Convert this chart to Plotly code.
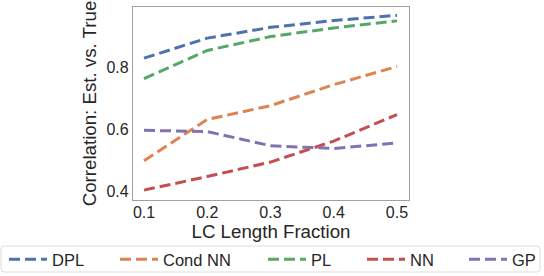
import plotly.graph_objects as go

fractions = [0.1, 0.2, 0.3, 0.4, 0.5]
dpl = [0.831, 0.896, 0.931, 0.953, 0.970]
cond_nn = [0.498, 0.632, 0.677, 0.745, 0.804]
pl = [0.765, 0.856, 0.901, 0.929, 0.952]
nn = [0.403, 0.447, 0.494, 0.562, 0.648]
gp = [0.597, 0.593, 0.547, 0.538, 0.556]

series_names = ["DPL", "Cond NN", "PL", "NN", "GP"]
series_values = [dpl, cond_nn, pl, nn, gp]
colors = ["#4C72B0", "#DD8452", "#55A868", "#C44E52", "#8172B3"]

x_ticks = [0.1, 0.2, 0.3, 0.4, 0.5]
y_ticks = [0.4, 0.6, 0.8]

W, H = 544, 276
ML, MR, MT, MB = 133, 135, 7, 76
PW, PH = W - ML - MR, H - MT - MB

FONT = "Arial, Liberation Sans, Helvetica, sans-serif"
TXT = "#262626"

# legend entry text-left positions (px) and frame (px)
leg_text_px = [52, 163, 311, 410, 512]
leg_top_px = 242
frame_px = (1, 246, 540, 272)

fig = go.Figure()
legends = {}
for i, (name, vals, c) in enumerate(zip(series_names, series_values, colors)):
    lname = "legend" if i == 0 else f"legend{i + 1}"
    fig.add_trace(go.Scatter(
        x=fractions, y=vals, mode="lines", name=name,
        line=dict(color=c, width=3, dash="11px,5px"),
        legend=lname,
    ))
    legends[lname] = dict(
        orientation="h", xref="container", yref="container",
        x=max(0.0, (leg_text_px[i] - 48) / W), y=1 - leg_top_px / H,
        xanchor="left", yanchor="top",
        bgcolor="rgba(0,0,0,0)", borderwidth=0,
        itemwidth=38, font=dict(family=FONT, size=16.5, color=TXT),
    )

def px2paper_x(px):
    return (px - ML) / PW

def px2paper_y(py):
    return (H - MB - py) / PH

x0, y0, x1, y1 = frame_px
r = 3
X0, X1 = px2paper_x(x0), px2paper_x(x1)
Y0, Y1 = px2paper_y(y1), px2paper_y(y0)
rx, ry = r / PW, r / PH
path = (f"M{X0 + rx},{Y0} L{X1 - rx},{Y0} Q{X1},{Y0} {X1},{Y0 + ry} "
        f"L{X1},{Y1 - ry} Q{X1},{Y1} {X1 - rx},{Y1} "
        f"L{X0 + rx},{Y1} Q{X0},{Y1} {X0},{Y1 - ry} "
        f"L{X0},{Y0 + ry} Q{X0},{Y0} {X0 + rx},{Y0} Z")

fig.update_layout(
    width=W, height=H,
    margin=dict(l=ML, r=MR, t=MT, b=MB, autoexpand=False),
    paper_bgcolor="white", plot_bgcolor="white",
    font=dict(family=FONT, size=16, color=TXT),
    showlegend=True,
    shapes=[dict(type="path", xref="paper", yref="paper", path=path,
                 line=dict(color="#dcdcdc", width=1), fillcolor="rgba(0,0,0,0)",
                 layer="below")],
    xaxis=dict(
        range=[0.0826, 0.519], tickvals=x_ticks,
        ticktext=[f"{v:.1f}" for v in x_ticks],
        showgrid=False, zeroline=False, ticks="", ticklabelstandoff=-2,
        showline=True, linecolor="#a0a0a0", linewidth=1.2, mirror=True,
        title=dict(text="LC Length Fraction", standoff=5,
                   font=dict(family=FONT, size=18.7, color=TXT)),
        tickfont=dict(family=FONT, size=16, color=TXT),
    ),
    yaxis=dict(
        range=[0.371, 0.997], tickvals=y_ticks,
        ticktext=[f"{v:.1f}" for v in y_ticks],
        showgrid=False, zeroline=False, ticks="",
        showline=True, linecolor="#a0a0a0", linewidth=1.2, mirror=True,
        title=dict(text="Correlation: Est. vs. True", standoff=4,
                   font=dict(family=FONT, size=18.7, color=TXT)),
        tickfont=dict(family=FONT, size=16, color=TXT),
    ),
    **legends,
)

fig.write_html(
    "out.html",
    config={"displayModeBar": False},
    post_script="document.body.style.margin='0';document.body.style.overflow='hidden';",
)
